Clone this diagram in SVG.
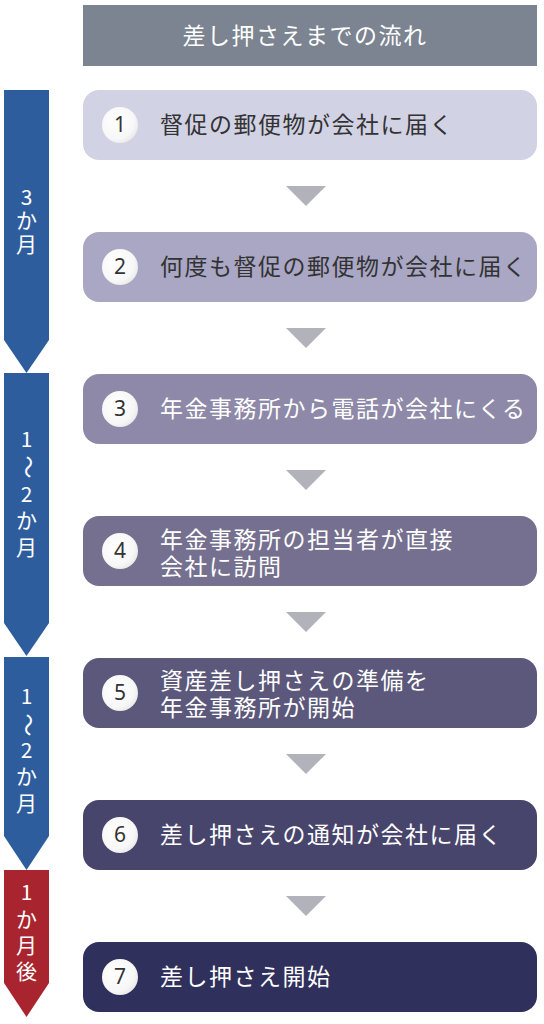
<svg xmlns="http://www.w3.org/2000/svg" width="544" height="1024" viewBox="0 0 544 1024">
<defs>
<radialGradient id="cg" cx="0.4" cy="0.4" r="0.7">
<stop offset="0" stop-color="#ffffff"/>
<stop offset="0.7" stop-color="#f7f7f7"/>
<stop offset="1" stop-color="#e4e4e4"/>
</radialGradient>
<style>
text{font-family:"Noto Sans CJK JP","Noto Sans",sans-serif;}
.hd{fill:#fff;font-size:23px;text-anchor:middle;letter-spacing:1.5px;}
.t{font-size:23px;letter-spacing:1.5px;}
.dk{fill:#333;}
.lt{fill:#fff;}
.num{font-family:"Noto Sans",sans-serif;font-size:21px;fill:#333;text-anchor:middle;}
.side{fill:#fff;font-size:21px;text-anchor:middle;}
.tri{fill:#b2b2ba;}
.circ{fill:url(#cg);}
</style>
</defs>
<rect width="544" height="1024" fill="#ffffff"/>

<g id="header">
<rect x="83" y="5" width="454" height="61" fill="#7b8490"/>
<text class="hd" x="305" y="44">差し押さえまでの流れ</text>
</g>

<g id="period1">
<polygon points="4,90 49,90 49,340 26.5,373 4,340" fill="#2e5d9e"/>
<text class="side" x="26.5" y="205">3</text>
<text class="side" x="26.5" y="228">か</text>
<text class="side" x="26.5" y="252">月</text>
</g>
<g id="period2">
<polygon points="4,373 49,373 49,623 26.5,656 4,623" fill="#2e5d9e"/>
<text class="side" x="26.5" y="447">1</text>
<text class="side" transform="translate(26.5,467) rotate(90)" x="0" y="7" style="font-size:23px">〜</text>
<text class="side" x="26.5" y="502">2</text>
<text class="side" x="26.5" y="528">か</text>
<text class="side" x="26.5" y="555">月</text>
</g>
<g id="period3">
<polygon points="4,657 49,657 49,836 26.5,870 4,836" fill="#2e5d9e"/>
<text class="side" x="26.5" y="704">1</text>
<text class="side" transform="translate(26.5,725) rotate(90)" x="0" y="7" style="font-size:23px">〜</text>
<text class="side" x="26.5" y="758">2</text>
<text class="side" x="26.5" y="784">か</text>
<text class="side" x="26.5" y="811">月</text>
</g>
<g id="period4">
<polygon points="4,870 49,870 49,983 26.5,1017 4,983" fill="#a8252f"/>
<text class="side" x="26.5" y="900">1</text>
<text class="side" x="26.5" y="927">か</text>
<text class="side" x="26.5" y="953">月</text>
<text class="side" x="26.5" y="979">後</text>
</g>

<g id="connectors">
<polygon class="tri" points="286,186 326,186 306,206"/>
<polygon class="tri" points="286,328 326,328 306,348"/>
<polygon class="tri" points="286,470 326,470 306,490"/>
<polygon class="tri" points="286,612 326,612 306,632"/>
<polygon class="tri" points="286,754 326,754 306,774"/>
<polygon class="tri" points="286,896 326,896 306,916"/>
</g>

<g id="step1">
<rect x="83" y="90" width="454" height="70" rx="16" fill="#d2d2e5"/>
<circle class="circ" cx="120" cy="125" r="18"/>
<text class="num" x="120" y="132">1</text>
<text class="t dk" x="160" y="133">督促の郵便物が会社に届く</text>
</g>
<g id="step2">
<rect x="83" y="232" width="454" height="70" rx="16" fill="#a9a7c4"/>
<circle class="circ" cx="120" cy="267" r="18"/>
<text class="num" x="120" y="274">2</text>
<text class="t dk" x="160" y="275">何度も督促の郵便物が会社に届く</text>
</g>
<g id="step3">
<rect x="83" y="374" width="454" height="70" rx="16" fill="#8e89a8"/>
<circle class="circ" cx="120" cy="409" r="18"/>
<text class="num" x="120" y="416">3</text>
<text class="t lt" x="160" y="417">年金事務所から電話が会社にくる</text>
</g>
<g id="step4">
<rect x="83" y="516" width="454" height="70" rx="16" fill="#75708f"/>
<circle class="circ" cx="120" cy="551" r="18"/>
<text class="num" x="120" y="558">4</text>
<text class="t lt" x="160" y="548">年金事務所の担当者が直接</text>
<text class="t lt" x="160" y="575">会社に訪問</text>
</g>
<g id="step5">
<rect x="83" y="658" width="454" height="70" rx="16" fill="#5c587b"/>
<circle class="circ" cx="120" cy="693" r="18"/>
<text class="num" x="120" y="700">5</text>
<text class="t lt" x="160" y="689">資産差し押さえの準備を</text>
<text class="t lt" x="160" y="716">年金事務所が開始</text>
</g>
<g id="step6">
<rect x="83" y="800" width="454" height="70" rx="16" fill="#48456c"/>
<circle class="circ" cx="120" cy="835" r="18"/>
<text class="num" x="120" y="842">6</text>
<text class="t lt" x="160" y="843">差し押さえの通知が会社に届く</text>
</g>
<g id="step7">
<rect x="83" y="942" width="454" height="70" rx="16" fill="#30305c"/>
<circle class="circ" cx="120" cy="977" r="18"/>
<text class="num" x="120" y="984">7</text>
<text class="t lt" x="160" y="985">差し押さえ開始</text>
</g>
</svg>
